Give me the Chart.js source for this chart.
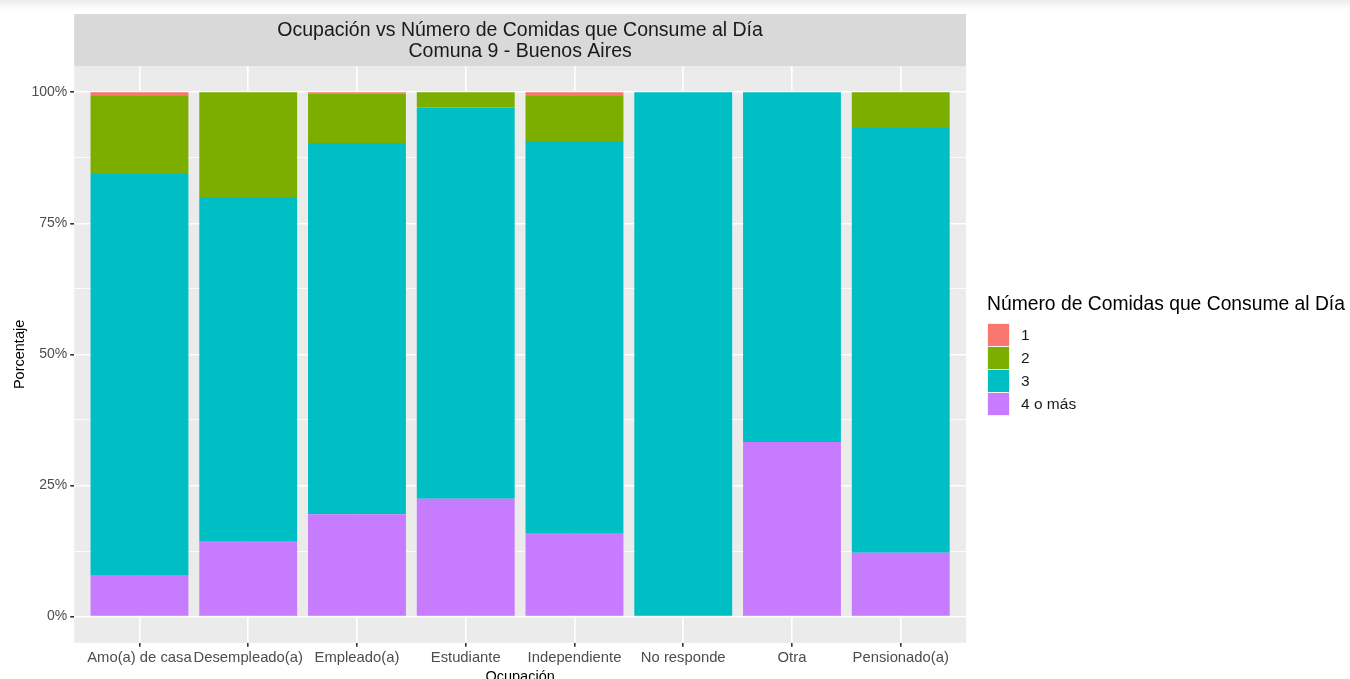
<!DOCTYPE html>
<html>
<head>
<meta charset="utf-8">
<script src="https://cdn.jsdelivr.net/npm/chart.js@4/dist/chart.umd.min.js"></script>
<style>
  html, body { margin: 0; padding: 0; background: #fff; }
  body { width: 1350px; height: 679px; overflow: hidden; position: relative;
         font-family: "Liberation Sans", Arial, sans-serif; }
  #shade { position: absolute; left: 0; top: 0; width: 1350px; height: 10px;
           background: linear-gradient(#ececec, #ffffff); }
  #wrap { position: absolute; left: 0; top: 0; width: 1350px; height: 679px; }
  #legend { position: absolute; left: 987px; top: 291px; color: #000; }
  #legend .ttl { font-size: 19.3px; line-height: 26px; white-space: nowrap; margin-bottom: 6px; }
  #legend .row { display: flex; align-items: center; height: 23px; }
  #legend .key { width: 21px; height: 22px; border: 0.5px solid #f2f2f2; margin-right: 11px; }
  #legend .lbl { font-size: 15.5px; color: #1a1a1a; }
</style>
</head>
<body>
<div id="shade"></div>
<div id="wrap"><canvas id="chart" width="1350" height="679"></canvas></div>
<div id="legend"></div>
<script>
// ocupaciones (eje x)
const categorias = ['Amo(a) de casa', 'Desempleado(a)', 'Empleado(a)', 'Estudiante',
                    'Independiente', 'No responde', 'Otra', 'Pensionado(a)'];

// porcentaje por número de comidas
const comidas1 = [0.7, 0, 0.3, 0, 0.7, 0, 0, 0];
const comidas2 = [14.9, 20.0, 9.4, 2.9, 8.6, 0, 0, 6.8];
const comidas3 = [76.6, 65.7, 70.8, 74.6, 74.9, 100, 66.7, 81.0];
const comidas4 = [7.8, 14.3, 19.5, 22.5, 15.8, 0, 33.3, 12.2];

const yTicks = [0, 12.5, 25, 37.5, 50, 62.5, 75, 87.5, 100];

const series = [
    { label: '4 o más', data: comidas4, color: '#C77CFF' },
    { label: '3', data: comidas3, color: '#00BFC4' },
    { label: '2', data: comidas2, color: '#7CAE00' },
    { label: '1', data: comidas1, color: '#F8766D' },
];

const tituloLineas = ['Ocupación vs Número de Comidas que Consume al Día', 'Comuna 9 - Buenos Aires'];

// fondo del panel + franja del título (estilo ggplot)
const panelPlugin = {
    id: 'panel',
    beforeDraw(chart) {
        const { ctx, chartArea } = chart;
        ctx.save();
        ctx.fillStyle = '#EBEBEB';
        ctx.fillRect(chartArea.left, chartArea.top, chartArea.right - chartArea.left, chartArea.bottom - chartArea.top);
        ctx.fillStyle = '#D9D9D9';
        ctx.fillRect(chartArea.left, 14, chartArea.right - chartArea.left, chartArea.top - 14);
        ctx.fillStyle = '#1a1a1a';
        ctx.font = '19.5px "Liberation Sans", Arial, sans-serif';
        ctx.textAlign = 'center';
        ctx.textBaseline = 'middle';
        const cx = (chartArea.left + chartArea.right) / 2;
        ctx.fillText(tituloLineas[0], cx, 31);
        ctx.fillText(tituloLineas[1], cx, 52);
        ctx.restore();
    }
};

const ctx = document.getElementById('chart').getContext('2d');
new Chart(ctx, {
    type: 'bar',
    data: {
        datasets: series.map((s) => ({
            label: s.label,
            data: s.data.map((v, i) => ({ x: i + 1, y: v })),
            backgroundColor: s.color,
            borderWidth: 0,
            barPercentage: 0.9,
            categoryPercentage: 1.0,
        })),
    },
    options: {
        responsive: false,
        animation: false,
        layout: { padding: { left: 11, right: 384, top: 66, bottom: -7 } },
        plugins: {
            legend: { display: false },
            tooltip: { enabled: false },
        },
        scales: {
            x: {
                type: 'linear',
                stacked: true,
                offset: false,
                min: 0.4,
                max: 8.6,
                afterBuildTicks: (scale) => {
                    scale.ticks = categorias.map((c, i) => ({ value: i + 1 }));
                },
                ticks: {
                    callback: (v) => categorias[v - 1],
                    color: '#4D4D4D',
                    font: { family: '"Liberation Sans", Arial', size: 14.8 },
                    padding: 2,
                    maxRotation: 0,
                    autoSkip: false,
                },
                grid: { offset: false, color: '#FFFFFF', lineWidth: 1.6, tickLength: 4, tickColor: '#333333' },
                border: { display: false },
                title: {
                    display: true,
                    text: 'Ocupación',
                    color: '#000',
                    font: { family: '"Liberation Sans", Arial', size: 14.5 },
                    padding: { top: 0, bottom: 0 },
                },
            },
            y: {
                stacked: true,
                min: -5,
                max: 105,
                afterBuildTicks: (scale) => {
                    scale.ticks = yTicks.map((v) => ({ value: v }));
                },
                ticks: {
                    callback: (v) => (v % 25 === 0 ? v + '%' : ''),
                    color: '#4D4D4D',
                    font: { family: '"Liberation Sans", Arial', size: 14 },
                    padding: 3,
                    autoSkip: false,
                },
                grid: {
                    color: '#FFFFFF',
                    lineWidth: (c) => (c.tick && c.tick.value % 25 === 0 ? 1.6 : 0.8),
                    tickLength: 4,
                    tickColor: (c) => (c.tick && c.tick.value % 25 === 0 ? '#333333' : 'rgba(0,0,0,0)'),
                },
                border: { display: false },
                title: {
                    display: true,
                    text: 'Porcentaje',
                    color: '#000',
                    font: { family: '"Liberation Sans", Arial', size: 14.5 },
                    padding: { top: 0, bottom: 0 },
                },
            },
        },
    },
    plugins: [panelPlugin],
});

// leyenda (orden 1, 2, 3, 4 o más)
const leg = document.getElementById('legend');
leg.innerHTML = '<div class="ttl">Número de Comidas que Consume al Día</div>' +
    series.slice().reverse().map((s) =>
        '<div class="row"><div class="key" style="background:' + s.color + '"></div><span class="lbl">' + s.label + '</span></div>'
    ).join('');
</script>
</body>
</html>
